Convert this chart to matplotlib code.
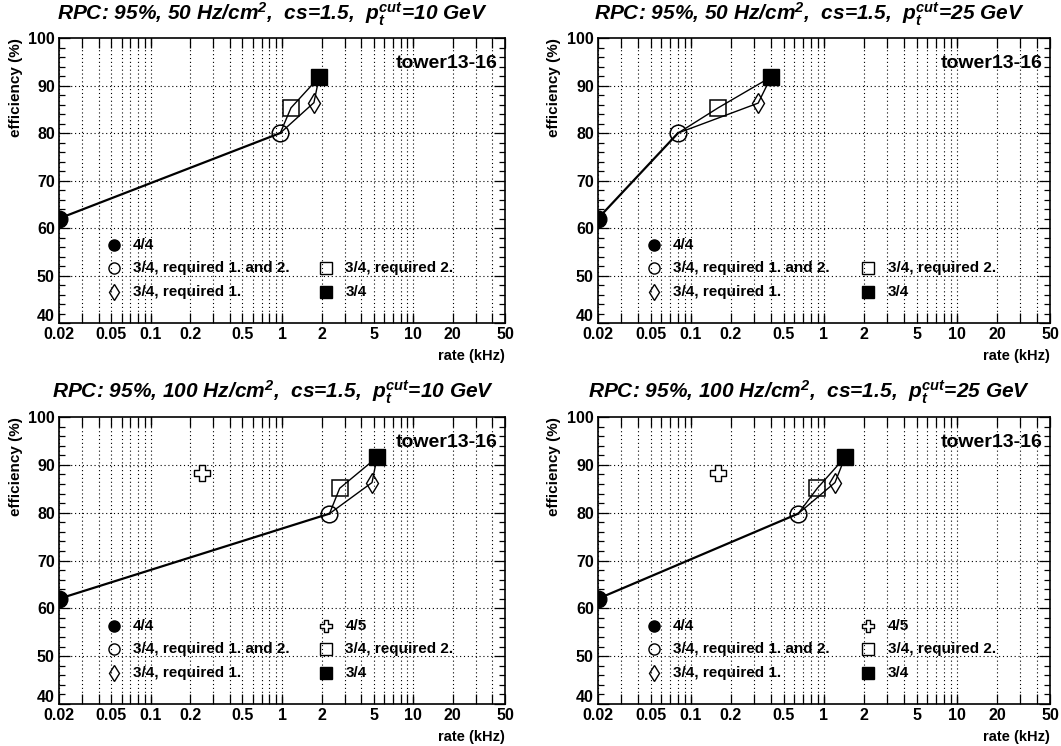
import numpy as np
import matplotlib
matplotlib.use("Agg")
import matplotlib.pyplot as plt
import matplotlib.transforms as mtransforms
from matplotlib.path import Path
from matplotlib.font_manager import FontProperties
from matplotlib.ticker import FixedLocator, FixedFormatter, NullFormatter

plt.rcParams['font.family'] = ['Liberation Sans', 'DejaVu Sans']
plt.rcParams['font.weight'] = 'bold'
plt.rcParams['mathtext.fontset'] = 'custom'
plt.rcParams['mathtext.rm'] = 'Liberation Sans:italic:bold'
plt.rcParams['mathtext.it'] = 'Liberation Sans:italic:bold'
plt.rcParams['mathtext.bf'] = 'Liberation Sans:italic:bold'

# panel titles
titles = [
    r"RPC: 95%, 50 Hz/cm$^2$,  cs=1.5,  p$_t^{cut}$=10 GeV",
    r"RPC: 95%, 50 Hz/cm$^2$,  cs=1.5,  p$_t^{cut}$=25 GeV",
    r"RPC: 95%, 100 Hz/cm$^2$,  cs=1.5,  p$_t^{cut}$=10 GeV",
    r"RPC: 95%, 100 Hz/cm$^2$,  cs=1.5,  p$_t^{cut}$=25 GeV",
]

# (rate kHz, efficiency %) per trigger condition, one entry per panel
all44_x = [0.02, 0.02, 0.02, 0.02]
all44_y = [62.0, 62.0, 62.0, 62.0]
req12_x = [0.97, 0.080, 2.3, 0.64]
req12_y = [80.0, 80.0, 79.8, 79.8]
req2_x = [1.17, 0.16, 2.75, 0.89]
req2_y = [85.3, 85.3, 85.1, 85.1]
req1_x = [1.75, 0.32, 4.85, 1.21]
req1_y = [86.4, 86.3, 86.3, 86.3]
any34_x = [1.92, 0.40, 5.3, 1.44]
any34_y = [91.8, 91.8, 91.6, 91.6]
f45_x = [None, None, 0.245, 0.16]
f45_y = [None, None, 88.2, 88.2]

xlabels = [0.02, 0.05, 0.1, 0.2, 0.5, 1, 2, 5, 10, 20, 50]
xlabel_text = ["0.02", "0.05", "0.1", "0.2", "0.5", "1", "2", "5", "10", "20", "50"]

# outlined cross marker (ROOT style open cross)
w = 0.36
cross_verts = [(-w, 1), (w, 1), (w, w), (1, w), (1, -w), (w, -w), (w, -1),
               (-w, -1), (-w, -w), (-1, -w), (-1, w), (-w, w), (-w, 1)]
cross = Path(cross_verts, [Path.MOVETO] + [Path.LINETO] * 11 + [Path.CLOSEPOLY])

title_font = FontProperties(family='Liberation Sans', style='italic', weight='bold',
                            size=15)

fig = plt.figure(figsize=(10.61, 7.46), dpi=100)
boxes = [
    [0.0556, 0.567, 0.4204, 0.382],
    [0.5636, 0.567, 0.426, 0.382],
    [0.0556, 0.0563, 0.4204, 0.3847],
    [0.5636, 0.0563, 0.426, 0.3847],
]
title_pos = [(0.257, 0.981), (0.763, 0.981), (0.257, 0.474), (0.763, 0.474)]

grid_kw = dict(color='black', linestyle=(0, (1, 2.5)), linewidth=0.8)

for i in range(4):
    ax = fig.add_axes(boxes[i])
    ax.set_xscale('log')
    ax.set_xlim(0.02, 50)
    ax.set_ylim(40, 100)

    # ticks
    allticks = []
    for dec in [0.01, 0.1, 1, 10]:
        for m in range(1, 10):
            v = round(m * dec, 4)
            if 0.02 <= v <= 50:
                allticks.append(v)
    decades = [0.1, 1, 10]
    ax.xaxis.set_major_locator(FixedLocator(allticks))
    ax.xaxis.set_major_formatter(FixedFormatter(
        [xlabel_text[xlabels.index(v)] if v in xlabels else "" for v in allticks]))
    ax.xaxis.set_minor_locator(FixedLocator([]))
    ax.xaxis.set_minor_formatter(NullFormatter())
    ax.set_yticks(np.arange(40, 101, 10))
    ax.set_yticks(np.arange(40, 101, 2), minor=True)
    ax.tick_params(which='both', direction='in', top=True, right=True,
                   labelsize=11.5, width=0.9, pad=3)
    ax.tick_params(axis='x', which='major', length=7)
    ax.tick_params(axis='y', which='major', length=8)
    ax.tick_params(axis='y', which='minor', length=4.5)
    for lab in ax.get_xticklabels() + ax.get_yticklabels():
        lab.set_fontweight('bold')
    # ROOT puts the bottom "40" a bit higher, next to the "0.02"
    lab40 = ax.get_yticklabels()[0]
    lab40.set_transform(lab40.get_transform() +
                        mtransforms.ScaledTranslation(0, 6 / 72, fig.dpi_scale_trans))
    # longer decade ticks
    for v in decades:
        ax.plot([v, v], [40, 41.5], color='black', lw=0.9)
        ax.plot([v, v], [100, 98.5], color='black', lw=0.9)

    for v in allticks:
        ax.axvline(v, **grid_kw, zorder=0)
    for v in range(50, 100, 10):
        ax.axhline(v, **grid_kw, zorder=0)
    for s in ax.spines.values():
        s.set_linewidth(1.2)

    # connecting lines
    ax.plot([all44_x[i], req12_x[i]], [all44_y[i], req12_y[i]], color='black', lw=1.6)
    ax.plot([req12_x[i], req2_x[i], any34_x[i]], [req12_y[i], req2_y[i], any34_y[i]],
            color='black', lw=1.0)
    ax.plot([req12_x[i], req1_x[i], any34_x[i]], [req12_y[i], req1_y[i], any34_y[i]],
            color='black', lw=1.0)

    # markers
    ax.plot(all44_x[i], all44_y[i], 'o', ms=12, color='black')
    ax.plot(req12_x[i], req12_y[i], 'o', ms=12, mfc='none', mec='black', mew=1.1)
    ax.plot(req2_x[i], req2_y[i], 's', ms=11, mfc='none', mec='black', mew=1.1)
    ax.plot(req1_x[i], req1_y[i], 'd', ms=10, mfc='none', mec='black', mew=1.0)
    ax.plot(any34_x[i], any34_y[i], 's', ms=11, color='black')
    if f45_x[i] is not None:
        ax.plot(f45_x[i], f45_y[i], marker=cross, ms=11, mfc='white', mec='black',
                mew=1.0, ls='none')

    # legend drawn by hand (ROOT style)
    c1m, c1t, c2m, c2t = 0.123, 0.165, 0.598, 0.642
    r1, r2, r3 = 0.273, 0.192, 0.108
    lt = ax.transAxes
    ax.plot(c1m, r1, 'o', ms=8, color='black', transform=lt)
    ax.text(c1t, r1, "4/4", transform=lt, va='center', fontsize=11, fontweight='bold')
    ax.plot(c1m, r2, 'o', ms=8, mfc='none', mec='black', mew=1.0, transform=lt)
    ax.text(c1t, r2, "3/4, required 1. and 2.", transform=lt, va='center',
            fontsize=11, fontweight='bold')
    ax.plot(c1m, r3, 'd', ms=8, mfc='none', mec='black', mew=1.0, transform=lt)
    ax.text(c1t, r3, "3/4, required 1.", transform=lt, va='center', fontsize=11,
            fontweight='bold')
    if f45_x[i] is not None:
        ax.plot(c2m, r1, marker=cross, ms=9, mfc='white', mec='black', mew=1.0,
                transform=lt, ls='none')
        ax.text(c2t, r1, "4/5", transform=lt, va='center', fontsize=11, fontweight='bold')
    ax.plot(c2m, r2, 's', ms=8, mfc='none', mec='black', mew=1.0, transform=lt)
    ax.text(c2t, r2, "3/4, required 2.", transform=lt, va='center', fontsize=11,
            fontweight='bold')
    ax.plot(c2m, r3, 's', ms=8, color='black', transform=lt)
    ax.text(c2t, r3, "3/4", transform=lt, va='center', fontsize=11, fontweight='bold')

    ax.text(0.983, 0.91, "tower13-16", transform=lt, ha='right', va='center',
            fontsize=14, fontweight='bold')
    ax.text(-0.097, 1.0, "efficiency (%)", transform=lt, rotation=90, ha='center',
            va='top', fontsize=11, fontweight='bold')
    ax.text(1.0, -0.09, "rate (kHz)", transform=lt, ha='right', va='top',
            fontsize=10.5, fontweight='bold')

    fig.text(title_pos[i][0], title_pos[i][1], titles[i], ha='center', va='center',
             fontproperties=title_font)

fig.savefig("out.png", dpi=100)
